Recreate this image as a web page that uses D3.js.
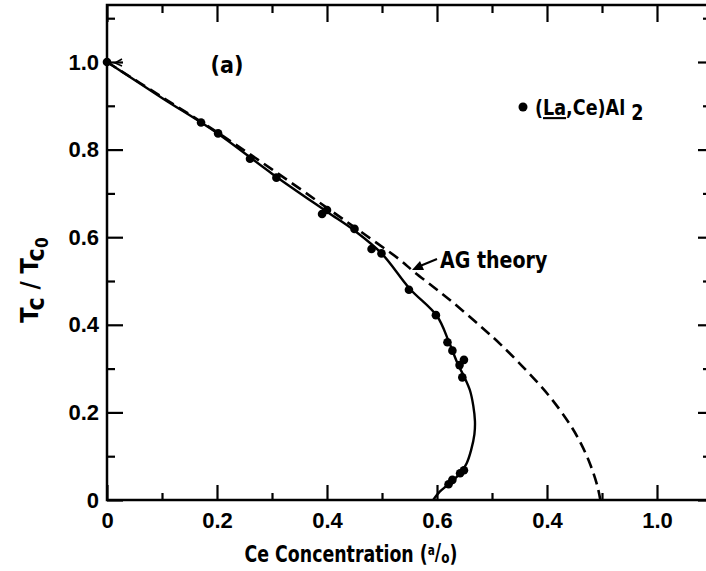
<!DOCTYPE html>
<html>
<head>
<meta charset="utf-8">
<script src="https://cdn.jsdelivr.net/npm/d3@7"></script>
<style>
  body { margin: 0; background: #fff; }
  svg { display: block; font-family: "DejaVu Sans Condensed", "DejaVu Sans", sans-serif; font-weight: bold; }
</style>
</head>
<body>
<div id="chart"></div>
<script>
// measured points, (La,Ce)Al2
const ceConc  = [0, 0.171, 0.202, 0.260, 0.308, 0.391, 0.400, 0.450, 0.481, 0.499, 0.549, 0.598, 0.619, 0.628, 0.641, 0.649, 0.646, 0.649, 0.642, 0.628, 0.621];
const tcRatio = [1.0, 0.862, 0.837, 0.779, 0.736, 0.653, 0.662, 0.619, 0.573, 0.563, 0.480, 0.422, 0.360, 0.341, 0.308, 0.320, 0.280, 0.068, 0.061, 0.046, 0.036];

// solid fitted curve (re-entrant)
const fitX = [0, 0.1, 0.2, 0.3, 0.4, 0.45, 0.5, 0.55, 0.6, 0.622, 0.638, 0.650, 0.660, 0.666, 0.669, 0.668, 0.662, 0.654, 0.644, 0.630, 0.617, 0.605, 0.593];
const fitY = [1.0, 0.918, 0.838, 0.745, 0.658, 0.615, 0.562, 0.483, 0.420, 0.360, 0.310, 0.280, 0.250, 0.215, 0.180, 0.150, 0.114, 0.084, 0.064, 0.046, 0.032, 0.019, 0];

// AG theory (dashed)
const agX = [0, 0.1, 0.2, 0.3, 0.4, 0.47, 0.533, 0.557, 0.593, 0.630, 0.678, 0.715, 0.763, 0.805, 0.842, 0.862, 0.879, 0.892, 0.897];
const agY = [1.0, 0.920, 0.840, 0.755, 0.667, 0.605, 0.548, 0.522, 0.487, 0.450, 0.398, 0.356, 0.295, 0.236, 0.172, 0.128, 0.080, 0.030, 0];

const xTicks = [0, 0.2, 0.4, 0.6, 0.8, 1.0];
const xTickLabels = ["0", "0.2", "0.4", "0.6", "0.4", "1.0"];
const xMinor = [0.1, 0.3, 0.5, 0.7, 0.9];
const yTicks = [0, 0.2, 0.4, 0.6, 0.8, 1.0];
const yTickLabels = ["0", "0.2", "0.4", "0.6", "0.8", "1.0"];
const yMinor = [0.1, 0.3, 0.5, 0.7, 0.9, 1.1];

const W = 706, H = 571;
const svg = d3.select("#chart").append("svg")
  .attr("width", W).attr("height", H);

const x = d3.scaleLinear().domain([0, 1]).range([107, 657]);
const y = d3.scaleLinear().domain([0, 1]).range([500, 62]);
const xMax = x.invert(712), yMax = y.invert(5);

// frame
svg.append("rect")
  .attr("x", x(0)).attr("y", y(yMax))
  .attr("width", x(xMax) - x(0)).attr("height", y(0) - y(yMax))
  .attr("fill", "none").attr("stroke", "#000").attr("stroke-width", 2.5);

const tickStyle = g => g.call(s => s.select(".domain").remove())
  .selectAll("line").attr("stroke", "#000").attr("stroke-width", 2.2);

// inward ticks on all four sides
svg.append("g").attr("transform", `translate(0,${y(0)})`)
  .call(d3.axisTop(x).tickValues(xTicks).tickSize(15).tickFormat("")).call(tickStyle);
svg.append("g").attr("transform", `translate(0,${y(0)})`)
  .call(d3.axisTop(x).tickValues(xMinor).tickSize(7).tickFormat("")).call(tickStyle);
svg.append("g").attr("transform", `translate(0,${y(yMax)})`)
  .call(d3.axisBottom(x).tickValues(xTicks).tickSize(17).tickFormat("")).call(tickStyle);
svg.append("g").attr("transform", `translate(0,${y(yMax)})`)
  .call(d3.axisBottom(x).tickValues(xMinor).tickSize(8).tickFormat("")).call(tickStyle);
svg.append("g").attr("transform", `translate(${x(0)},0)`)
  .call(d3.axisRight(y).tickValues(yTicks).tickSize(16).tickFormat("")).call(tickStyle);
svg.append("g").attr("transform", `translate(${x(0)},0)`)
  .call(d3.axisRight(y).tickValues(yMinor).tickSize(8).tickFormat("")).call(tickStyle);
svg.append("g").attr("transform", `translate(${x(xMax)},0)`)
  .call(d3.axisLeft(y).tickValues(yTicks).tickSize(14).tickFormat("")).call(tickStyle);
svg.append("g").attr("transform", `translate(${x(xMax)},0)`)
  .call(d3.axisLeft(y).tickValues(yMinor).tickSize(9).tickFormat("")).call(tickStyle);

// tick labels
const xl = svg.append("g").attr("transform", `translate(0,${y(0)})`)
  .call(d3.axisBottom(x).tickValues(xTicks).tickSize(0).tickPadding(12)
    .tickFormat((d, i) => xTickLabels[i]));
xl.select(".domain").remove();
xl.selectAll("text").attr("font-family", null).attr("font-size", 22).attr("fill", "#000");

const yl = svg.append("g").attr("transform", `translate(${x(0)},0)`)
  .call(d3.axisLeft(y).tickValues(yTicks).tickSize(0).tickPadding(8)
    .tickFormat((d, i) => yTickLabels[i]));
yl.select(".domain").remove();
yl.selectAll("text").attr("font-family", null).attr("font-size", 22).attr("fill", "#000");

// curves
const line = d3.line().x(d => x(d[0])).y(d => y(d[1])).curve(d3.curveCatmullRom.alpha(0.5));

svg.append("path")
  .datum(agX.map((v, i) => [v, agY[i]]))
  .attr("d", line)
  .attr("fill", "none").attr("stroke", "#000").attr("stroke-width", 2.6)
  .attr("stroke-dasharray", "11,6");

svg.append("path")
  .datum(fitX.map((v, i) => [v, fitY[i]]))
  .attr("d", line)
  .attr("fill", "none").attr("stroke", "#000").attr("stroke-width", 2.4);

svg.selectAll("circle.pt")
  .data(ceConc.map((v, i) => [v, tcRatio[i]]))
  .enter().append("circle")
  .attr("class", "pt")
  .attr("cx", d => x(d[0])).attr("cy", d => y(d[1]))
  .attr("r", 4.3).attr("fill", "#000");

// small arrowhead next to the first point
svg.append("path")
  .attr("d", `M${x(0) + 15},${y(1) - 3} L${x(0) + 8},${y(1) + 1} L${x(0) + 15},${y(1) + 4}`)
  .attr("fill", "none").attr("stroke", "#000").attr("stroke-width", 1.5);

// AG theory label + arrow
svg.append("text").attr("transform", "translate(440,268) scale(0.92,1)")
  .attr("font-size", 23).text("AG theory");
svg.append("line").attr("x1", 437).attr("y1", 259).attr("x2", 420).attr("y2", 266)
  .attr("stroke", "#000").attr("stroke-width", 2);
svg.append("path").attr("d", "M412,270 L420,261 L424,270 Z").attr("fill", "#000");

// panel label
svg.append("text").attr("x", 227).attr("y", 73).attr("text-anchor", "middle")
  .attr("font-size", 23).text("(a)");

// legend
svg.append("circle").attr("cx", 523).attr("cy", 107).attr("r", 4.5).attr("fill", "#000");
const leg = svg.append("text").attr("transform", "translate(535,115) scale(0.93,1)").attr("font-size", 21);
leg.append("tspan").text("(");
leg.append("tspan").attr("text-decoration", "underline").text("La");
leg.append("tspan").text(",Ce)Al ");
leg.append("tspan").attr("dy", 5).text("2");

// axis titles
const xt = svg.append("text").attr("transform", "translate(351,562) scale(0.84,1)")
  .attr("text-anchor", "middle").attr("font-size", 23);
xt.append("tspan").text("Ce Concentration (");
xt.append("tspan").attr("font-size", 14).attr("dy", -7).text("a");
xt.append("tspan").attr("dy", 5).text("/");
xt.append("tspan").attr("font-size", 16).attr("dy", 3).text("o");
xt.append("tspan").attr("dy", -1).text(")");

const yt = svg.append("text").attr("transform", "translate(38,280) rotate(-90)")
  .attr("text-anchor", "middle").attr("font-size", 25);
yt.append("tspan").text("T");
yt.append("tspan").attr("dy", 6).text("c");
yt.append("tspan").attr("dy", -6).text(" / T");
yt.append("tspan").attr("dy", 6).text("c");
yt.append("tspan").attr("dy", 4).attr("font-size", 17).text("0");
</script>
</body>
</html>
